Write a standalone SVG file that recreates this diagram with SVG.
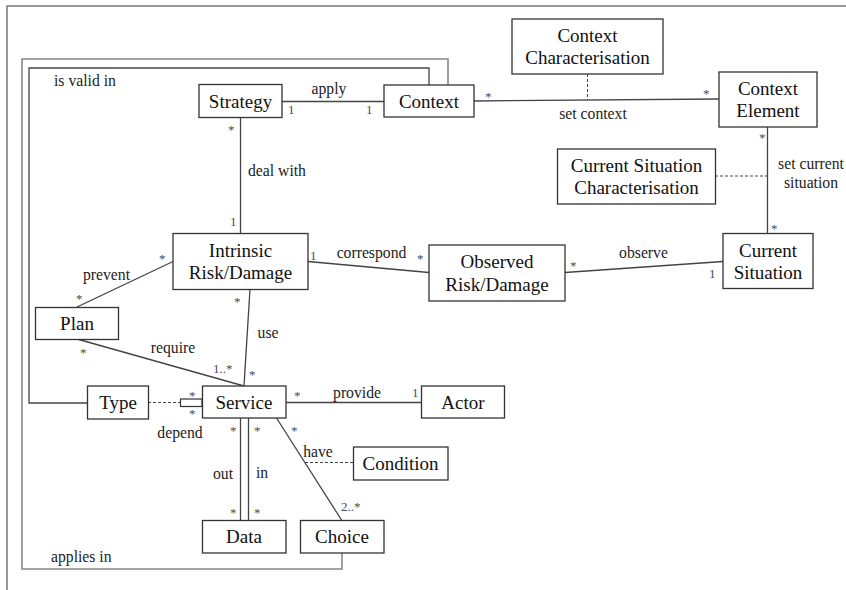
<svg xmlns="http://www.w3.org/2000/svg" width="846" height="590" viewBox="0 0 846 590">
<defs>
<style>
text{font-family:'Liberation Serif','Times New Roman',serif}
</style>
</defs>
<rect width="846" height="590" fill="#fff"/>
<path d="M7,590 V6 H846" fill="none" stroke="#777" stroke-width="1.5"/>
<g id="connectors">
<path d="M448,85 V59 H22 V569 H342 V553" fill="none" stroke="#888" stroke-width="1.6"/>
<g fill="none" stroke="#444" stroke-width="1.3">
<path d="M429,85 V68 H29 V403 H87"/>
<line x1="282" y1="101.5" x2="384" y2="101.5"/>
<line x1="474" y1="101" x2="719" y2="99"/>
<line x1="767.5" y1="127" x2="767.5" y2="233"/>
<line x1="240.5" y1="117" x2="240.5" y2="233"/>
<line x1="308" y1="261.5" x2="429" y2="272.5"/>
<line x1="565" y1="272.5" x2="723" y2="261.5"/>
<line x1="77" y1="307" x2="173" y2="261.5"/>
<line x1="77" y1="339" x2="244" y2="386"/>
<line x1="250" y1="289" x2="244" y2="386"/>
<line x1="286" y1="402.5" x2="421" y2="402.5"/>
<line x1="240.5" y1="418" x2="240.5" y2="520"/>
<line x1="248.5" y1="418" x2="248.5" y2="520"/>
<line x1="276.5" y1="418" x2="341.5" y2="520"/>
</g>
<g fill="none" stroke="#444" stroke-width="1" stroke-dasharray="3,2">
<line x1="587.5" y1="74" x2="587.5" y2="100"/>
<line x1="715" y1="176" x2="767" y2="176"/>
<line x1="148" y1="402.5" x2="180" y2="402.5"/>
<line x1="305" y1="462.5" x2="353" y2="462.5"/>
</g>
<rect x="180.5" y="399" width="21.5" height="7.5" fill="#fff" stroke="#333" stroke-width="1.2"/>
<g font-size="15.7" fill="#222" font-family="Liberation Serif">
<text font-family="Liberation Serif" x="54" y="86">is valid in</text>
<text font-family="Liberation Serif" x="51" y="562">applies in</text>
<text font-family="Liberation Serif" x="248" y="176">deal with</text>
<g text-anchor="middle">
<text font-family="Liberation Serif" x="329" y="94">apply</text>
<text font-family="Liberation Serif" x="593" y="119">set context</text>
<text font-family="Liberation Serif" x="811" y="169">set current</text>
<text font-family="Liberation Serif" x="811" y="188">situation</text>
<text font-family="Liberation Serif" x="371.5" y="258">correspond</text>
<text font-family="Liberation Serif" x="643.5" y="258">observe</text>
<text font-family="Liberation Serif" x="106.5" y="280">prevent</text>
<text font-family="Liberation Serif" x="173" y="353">require</text>
<text font-family="Liberation Serif" x="268" y="338">use</text>
<text font-family="Liberation Serif" x="180" y="438">depend</text>
<text font-family="Liberation Serif" x="357" y="398">provide</text>
<text font-family="Liberation Serif" x="223" y="479">out</text>
<text font-family="Liberation Serif" x="262" y="478">in</text>
<text font-family="Liberation Serif" x="318" y="457">have</text>
</g>
</g>
<g font-size="13" fill="#4a4a5a" font-family="Liberation Serif">
<text x="288" y="114">1</text>
<text x="366" y="114">1</text>
<text x="485" y="101">*</text>
<text x="703" y="98">*</text>
<text x="759" y="142">*</text>
<text x="771" y="233">*</text>
<text x="228" y="134">*</text>
<text x="230" y="226">1</text>
<text x="310" y="260">1</text>
<text x="417" y="263">*</text>
<text x="570" y="270">*</text>
<text x="709" y="278">1</text>
<text x="159" y="263">*</text>
<text x="76" y="303">*</text>
<text x="80" y="357">*</text>
<text x="213" y="373">1..*</text>
<text x="234" y="306">*</text>
<text x="249" y="379">*</text>
<text x="189" y="400">*</text>
<text x="189" y="418">*</text>
<text x="294" y="400">*</text>
<text x="412" y="397">1</text>
<text x="230" y="435">*</text>
<text x="254" y="435">*</text>
<text x="230" y="517">*</text>
<text x="254" y="517">*</text>
<text x="291" y="435">*</text>
<text x="341" y="511">2..*</text>
</g>
</g>
<g font-size="19" fill="#111" text-anchor="middle" font-family="Liberation Serif">
<g id="strategy"><rect x="199" y="84.5" width="83" height="33" fill="#fff" stroke="#333" stroke-width="1.3"/><text x="240.5" y="107.5">Strategy</text></g>
<g id="context"><rect x="384" y="85" width="90" height="32" fill="#fff" stroke="#333" stroke-width="1.3"/><text x="429" y="107.5">Context</text></g>
<g id="context-characterisation"><rect x="512" y="19" width="151" height="55" fill="#fff" stroke="#333" stroke-width="1.3"/><text x="587.5" y="42">Context</text><text x="587.5" y="64">Characterisation</text></g>
<g id="context-element"><rect x="719" y="72" width="98" height="55" fill="#fff" stroke="#333" stroke-width="1.3"/><text x="768" y="95">Context</text><text x="768" y="117">Element</text></g>
<g id="current-situation-characterisation"><rect x="557.5" y="149" width="158" height="55" fill="#fff" stroke="#333" stroke-width="1.3"/><text x="636.5" y="171.5">Current Situation</text><text x="636.5" y="193.5">Characterisation</text></g>
<g id="current-situation"><rect x="723" y="233.5" width="90" height="55" fill="#fff" stroke="#333" stroke-width="1.3"/><text x="768" y="256.5">Current</text><text x="768" y="278.5">Situation</text></g>
<g id="intrinsic-risk"><rect x="173" y="233.5" width="135" height="56" fill="#fff" stroke="#333" stroke-width="1.3"/><text x="240.5" y="256.5">Intrinsic</text><text x="240.5" y="278.5">Risk/Damage</text></g>
<g id="observed-risk"><rect x="429" y="245" width="136" height="56" fill="#fff" stroke="#333" stroke-width="1.3"/><text x="497" y="268">Observed</text><text x="497" y="290.5">Risk/Damage</text></g>
<g id="plan"><rect x="35.5" y="307.5" width="83" height="32" fill="#fff" stroke="#333" stroke-width="1.3"/><text x="77" y="330">Plan</text></g>
<g id="type"><rect x="87.5" y="386" width="61" height="33" fill="#fff" stroke="#333" stroke-width="1.3"/><text x="118" y="409">Type</text></g>
<g id="service"><rect x="202.5" y="386" width="83.5" height="32" fill="#fff" stroke="#333" stroke-width="1.3"/><text x="244" y="409">Service</text></g>
<g id="actor"><rect x="421.5" y="386" width="83" height="32" fill="#fff" stroke="#333" stroke-width="1.3"/><text x="463" y="409">Actor</text></g>
<g id="condition"><rect x="353.5" y="447" width="94.5" height="33" fill="#fff" stroke="#333" stroke-width="1.3"/><text x="400.5" y="470">Condition</text></g>
<g id="data"><rect x="202.5" y="520.5" width="83.5" height="32.5" fill="#fff" stroke="#333" stroke-width="1.3"/><text x="244" y="543">Data</text></g>
<g id="choice"><rect x="300.5" y="520.5" width="83.5" height="32.5" fill="#fff" stroke="#333" stroke-width="1.3"/><text x="342" y="543">Choice</text></g>
</g>
</svg>
